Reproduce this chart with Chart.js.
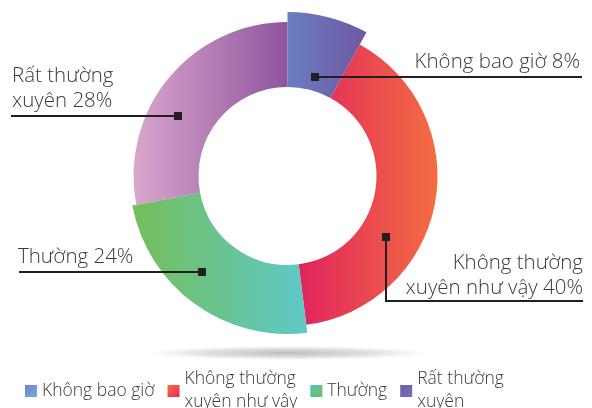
<!DOCTYPE html>
<html>
<head>
<meta charset="utf-8">
<script src="https://cdn.jsdelivr.net/npm/chart.js@4"></script>
<style>
  html, body { margin: 0; padding: 0; background: #fff; overflow: hidden; }
  #wrap { width: 592px; height: 408px; }
</style>
</head>
<body>
<div id="wrap"><canvas id="donut" width="592" height="408"></canvas></div>
<script>
// categories split the same way the picture breaks them
const categories = [['Không bao giờ'], ['Không thường', 'xuyên như vậy'], ['Thường'], ['Rất thường', 'xuyên']];
const shares = [8, 40, 24, 28];

// look
const outerRadii = [164, 150, 158, 154];
const gradStops = [['#6a7ec2', '#6f57a3'], ['#e0245e', '#f36d41'], ['#74bf5a', '#5ec9c8'], ['#daa6cd', '#8e559e']];
const legendStops = [['#6687c9', '#7eaadc'], ['#f37043', '#e6285c'], ['#4fc3bd', '#74c05b'], ['#7b58a5', '#6a74b9']];
// marker spot inside each slice: fraction along the arc, fraction across the ring
const spots = [
    { f: 0.54, g: 0.18, side: 'right', endX: 582, textX: 580 },
    { f: 0.646, g: 0.44, side: 'elbow', endX: 583, textX: 583, drop: 64 },
    { f: 0.564, g: 0.57, side: 'left', endX: 19, textX: 18 },
    { f: 0.394, g: 0.555, side: 'left', endX: 11, textX: 12 }
];
const labelFont = '300 20.5px "Open Sans"';
const legendFont = '300 17.5px "Open Sans"';
const ink = '#231f20';
const textInk = '#3a3a3a';

const arcBounds = (arc) => {
    let min = Infinity, max = -Infinity;
    for (let k = 0; k <= 40; k++) {
        const a = arc.startAngle + (arc.endAngle - arc.startAngle) * k / 40;
        [arc.innerRadius, arc.outerRadius].forEach(r => {
            const x = arc.x + r * Math.cos(a);
            min = Math.min(min, x);
            max = Math.max(max, x);
        });
    }
    return [min, max];
};

const ringShape = {
    id: 'ringShape',
    afterDatasetsUpdate(chart) {
        const ctx = chart.ctx;
        chart.getDatasetMeta(0).data.forEach((arc, i) => {
            arc.outerRadius = outerRadii[i];
            const [x0, x1] = arcBounds(arc);
            const grad = ctx.createLinearGradient(x0, 0, x1, 0);
            grad.addColorStop(0, gradStops[i][0]);
            grad.addColorStop(1, gradStops[i][1]);
            arc.options.backgroundColor = grad;
        });
    },
    beforeDatasetsDraw(chart) {
        const arc = chart.getDatasetMeta(0).data[0];
        const ctx = chart.ctx;
        ctx.save();
        ctx.translate(arc.x, arc.y + 177);
        ctx.scale(1, 0.05);
        const g = ctx.createRadialGradient(0, 0, 0, 0, 0, 138);
        g.addColorStop(0, 'rgba(0,0,0,0.26)');
        g.addColorStop(0.6, 'rgba(0,0,0,0.12)');
        g.addColorStop(1, 'rgba(0,0,0,0)');
        ctx.fillStyle = g;
        ctx.beginPath();
        ctx.arc(0, 0, 138, 0, Math.PI * 2);
        ctx.fill();
        ctx.restore();
    }
};

const callouts = {
    id: 'callouts',
    afterDatasetsDraw(chart) {
        const ctx = chart.ctx;
        const arcs = chart.getDatasetMeta(0).data;
        ctx.save();
        ctx.font = labelFont;
        ctx.lineWidth = 2;
        ctx.strokeStyle = ink;
        arcs.forEach((arc, i) => {
            const s = spots[i];
            const a = arc.startAngle + (arc.endAngle - arc.startAngle) * s.f;
            const r = arc.innerRadius + (arc.outerRadius - arc.innerRadius) * s.g;
            const mx = Math.round(arc.x + r * Math.cos(a));
            const my = Math.round(arc.y + r * Math.sin(a));
            const lines = categories[i].slice();
            lines[lines.length - 1] += ' ' + shares[i] + '%';

            let lineY = my;
            ctx.beginPath();
            ctx.moveTo(mx, my);
            if (s.side === 'elbow') {
                lineY = my + s.drop;
                ctx.lineTo(mx, lineY);
            }
            ctx.lineTo(s.endX, lineY);
            ctx.stroke();

            ctx.fillStyle = ink;
            ctx.fillRect(mx - 4, my - 4, 8, 8);

            ctx.fillStyle = textInk;
            ctx.textAlign = s.side === 'left' ? 'left' : 'right';
            ctx.textBaseline = 'alphabetic';
            const gap = s.side === 'elbow' ? 7 : 9;
            lines.forEach((t, k) => {
                ctx.fillText(t, s.textX, lineY - gap - (lines.length - 1 - k) * 25);
            });
        });
        ctx.restore();
    }
};

const bottomLegend = {
    id: 'bottomLegend',
    afterDraw(chart) {
        const ctx = chart.ctx;
        ctx.save();
        ctx.font = legendFont;
        ctx.textBaseline = 'middle';
        ctx.textAlign = 'left';
        const midY = 391;
        let x = 25;
        categories.forEach((lines, i) => {
            const grad = ctx.createLinearGradient(x, midY - 6, x + 12, midY + 6);
            grad.addColorStop(0, legendStops[i][0]);
            grad.addColorStop(1, legendStops[i][1]);
            ctx.fillStyle = grad;
            ctx.fillRect(x, midY - 6, 12, 12);
            ctx.fillStyle = textInk;
            let w = 0;
            lines.forEach((t, k) => {
                const y = midY + (k - (lines.length - 1) / 2) * 23;
                ctx.fillText(t, x + 17, y);
                w = Math.max(w, ctx.measureText(t).width);
            });
            x += 17 + w + 13;
        });
        ctx.restore();
    }
};

new Chart(document.getElementById('donut'), {
    type: 'doughnut',
    data: {
        labels: categories.map(c => c.join(' ')),
        datasets: [{
            data: shares,
            backgroundColor: gradStops.map(s => s[0]),
            borderWidth: 0,
            cutout: 89
        }]
    },
    options: {
        responsive: false,
        animation: false,
        devicePixelRatio: 1,
        events: [],
        layout: { padding: { left: 137.5, right: 154.5, top: 26, bottom: 82 } },
        plugins: {
            legend: { display: false },
            tooltip: { enabled: false }
        }
    },
    plugins: [ringShape, callouts, bottomLegend]
});
</script>
</body>
</html>
